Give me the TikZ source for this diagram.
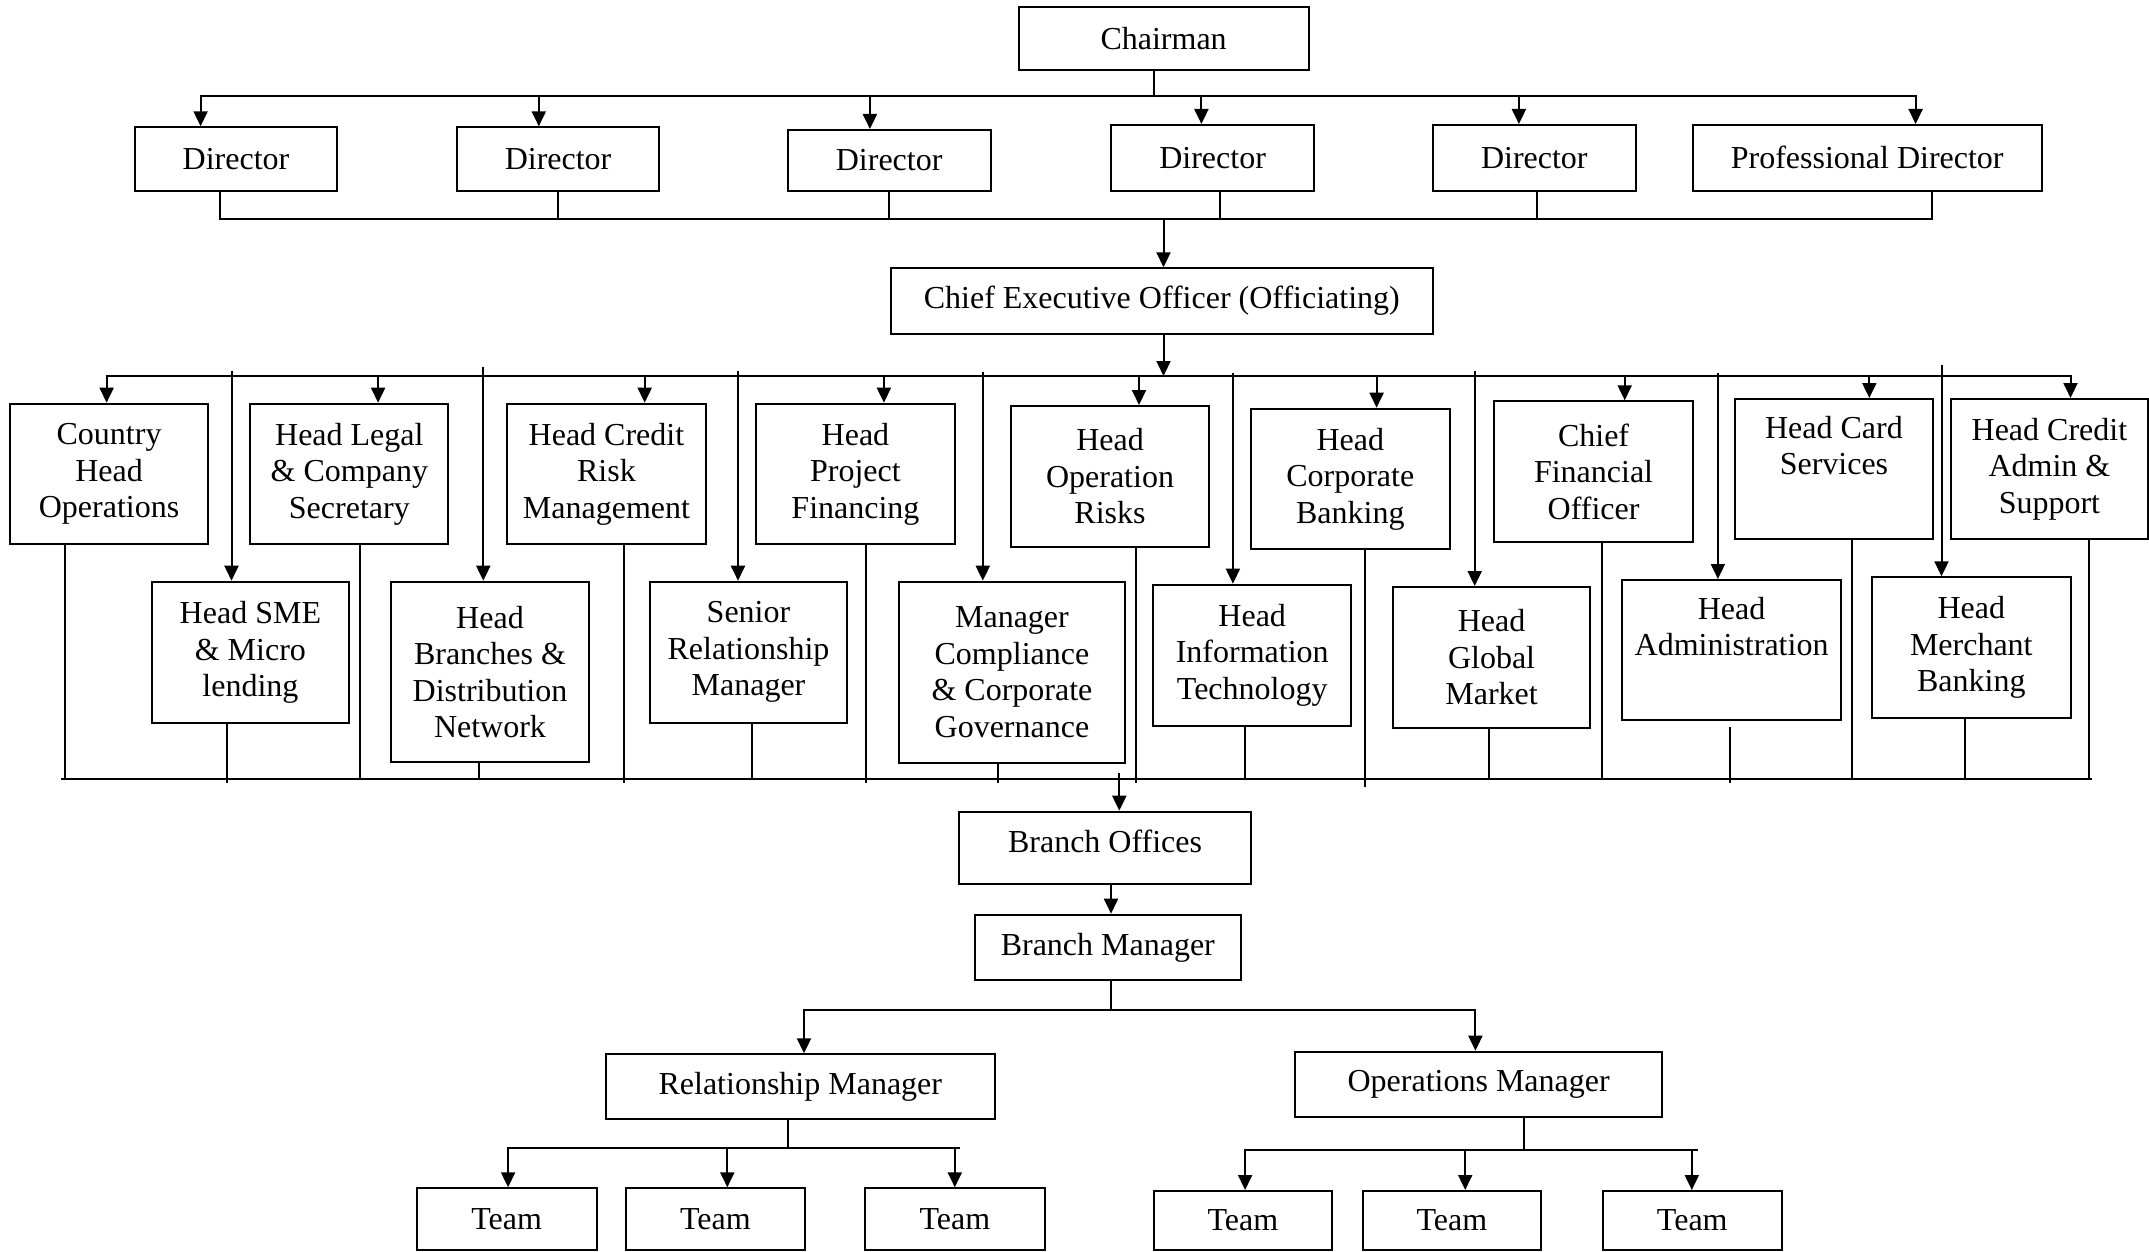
\documentclass[tikz,border=0pt]{standalone}
\usepackage{fontspec}
\setmainfont{Liberation Serif}
\usetikzlibrary{arrows.meta}
\newcommand\mkbox[6]{\node[box, minimum width={#3-#2}, minimum height={#5-#4}] (#1) at ({(#2+#3)/2},{(#4+#5)/2}) {#6};}
\begin{document}
\begin{tikzpicture}[x=1pt,y=-1pt,
  box/.style={draw, line width=2pt, rectangle, inner sep=0pt, align=center, font=\fontsize{32}{36.5}\selectfont},
  ln/.style={line width=2pt, line cap=rect},
  arr/.style={line width=2pt, -{Triangle[length=15pt,width=14pt]}}]
\fill[white] (0,0) rectangle (2149,1252);
\useasboundingbox (0,0) rectangle (2149,1252);

% top
\mkbox{chair}{1018.6}{1308.6}{7.3}{70}{Chairman}
\mkbox{d1}{134.7}{337.4}{127.3}{190.7}{Director}
\mkbox{d2}{456.7}{659.4}{127.3}{190.7}{Director}
\mkbox{d3}{787.8}{990.5}{130}{190.7}{Director}
\mkbox{d4}{1111}{1314.2}{125}{190.7}{Director}
\mkbox{d5}{1432.7}{1635.9}{125}{190.7}{Director}
\mkbox{pd}{1692.7}{2041.7}{125}{190.7}{Professional Director}
\mkbox{ceo}{890.9}{1432.7}{268.3}{334}{Chief Executive Officer (Officiating)}

% row 1
\mkbox{country}{9.8}{208.3}{403.7}{544.3}{Country\\Head\\Operations}
\mkbox{legal}{250.4}{448.3}{403.7}{544.3}{Head Legal\\\& Company\\Secretary}
\mkbox{crisk}{507.2}{705.7}{403.7}{544.3}{Head Credit\\Risk\\Management}
\mkbox{proj}{756.2}{954.7}{403.7}{544.3}{Head\\Project\\Financing}
\mkbox{oprisk}{1010.9}{1209.1}{406}{547}{Head\\Operation\\Risks}
\mkbox{corp}{1251.1}{1449.5}{408.7}{549.3}{Head\\Corporate\\Banking}
\mkbox{cfo}{1494.4}{1692.7}{401.3}{542.3}{Chief\\Financial\\Officer}
\mkbox{card}{1734.8}{1933.1}{399}{539.3}{Head Card\\Services\\\strut}
\mkbox{cadmin}{1951.3}{2147.5}{399}{539.3}{Head Credit\\Admin \&\\Support}

% row 2
\mkbox{sme}{151.5}{349.3}{581.7}{723}{Head SME\\\& Micro\\lending}
\mkbox{branches}{390.7}{589.3}{581.7}{762.3}{Head\\Branches \&\\Distribution\\Network}
\mkbox{srm}{649.6}{847.4}{581.7}{723}{Senior\\Relationship\\Manager}
\mkbox{comp}{898.6}{1125.3}{581.7}{762.7}{Manager\\Compliance\\\& Corporate\\Governance}
\mkbox{it}{1153}{1351.4}{584.7}{725.7}{Head\\Information\\Technology}
\mkbox{glob}{1392.7}{1590.4}{587}{728}{Head\\Global\\Market}
\mkbox{admin}{1621.9}{1841.3}{580}{720.3}{Head\\Administration\\\strut}
\mkbox{merch}{1872.1}{2070.5}{577.3}{718.3}{Head\\Merchant\\Banking}

% branch level
\node[box, text depth=14pt, minimum width=291.3, minimum height=72.3] (boff) at (1105.05,847.85) {Branch Offices};
\mkbox{bman}{975.1}{1240.5}{914.7}{980}{Branch Manager}
\mkbox{rm}{606.1}{994.5}{1054.3}{1119.3}{Relationship Manager}
\mkbox{om}{1295.1}{1662.2}{1051.7}{1116.7}{Operations Manager}
\mkbox{t1}{416.7}{596.7}{1188.3}{1250}{Team}
\mkbox{t2}{625.6}{805}{1188.3}{1250}{Team}
\mkbox{t3}{865.1}{1044.5}{1188.3}{1250}{Team}
\mkbox{t4}{1153.6}{1332}{1191}{1250}{Team}
\mkbox{t5}{1362.6}{1541}{1191}{1250}{Team}
\mkbox{t6}{1603}{1781.5}{1191}{1250}{Team}

% chairman -> directors
\coordinate (ch) at (1154,96.3);
\draw[ln] (ch |- chair.south) -- (ch);
\foreach \n/\x in {d1/200.6,d2/538.8,d3/869.9,d4/1201.4,d5/1518.9,pd/1915.6}{
  \coordinate (a\n) at (\x,96.3);
  \draw[arr] (a\n) -- (a\n |- \n.north);}
\draw[ln] (ad1) -- (apd);

% directors -> CEO
\foreach \n/\x in {d1/220,d2/558,d3/889,d4/1220,d5/1537,pd/1932}{
  \coordinate (b\n) at (\x,219);
  \draw[ln] (b\n |- \n.south) -- (b\n);}
\draw[ln] (bd1) -- (bpd);
\coordinate (bc) at (1163.5,219);
\draw[arr] (bc) -- (bc |- ceo.north);

% CEO -> heads
\coordinate (mc) at (1163.5,376);
\draw[arr] (mc |- ceo.south) -- (mc);
\foreach \n/\x in {country/106.6,legal/378.1,crisk/644.7,proj/883.9,oprisk/1139,corp/1376.6,cfo/1624.7,card/1869.3,cadmin/2070.5}{
  \coordinate (m\n) at (\x,376);
  \draw[arr] (m\n) -- (m\n |- \n.north);}
\draw[ln] (mcountry) -- (mcadmin);
\foreach \n/\x/\y in {sme/231.5/370.7,branches/483.3/366.7,srm/738/370.7,comp/982.8/371.7,it/1232.9/373,glob/1474.7/370.7,admin/1717.9/373,merch/1941.5/365}{
  \coordinate (s\n) at (\x,\y);
  \draw[arr] (s\n) -- (s\n |- \n.north);}

% heads -> branch offices
\foreach \n/\x/\y in {country/65/779,sme/227/781.7,legal/360/779,branches/479/779,crisk/624/781.7,srm/752/779,proj/866/781.7,comp/998/781.7,oprisk/1136/781.7,it/1245/779,corp/1365/786,glob/1489/779,cfo/1602/779,card/1852/779,merch/1965/779,cadmin/2089/779}{
  \coordinate (e\n) at (\x,\y);
  \draw[ln] (e\n |- \n.south) -- (e\n);}
\coordinate (eadmin) at (1730,781.7);
\draw[ln] ([yshift=-7pt]eadmin |- admin.south) -- (eadmin);
\coordinate (bbL) at (61.7,779);
\coordinate (bbR) at (2090.8,779);
\draw[ln] (bbL) -- (bbR);
\coordinate (bo) at (1119.3,773.3);
\draw[arr] (bo) -- (bo |- boff.north);

% branch offices -> manager
\coordinate (bmx) at (1111,0);
\draw[arr] (bmx |- boff.south) -- (bmx |- bman.north);
\coordinate (bmb) at (1111,1010.3);
\draw[ln] (bmb |- bman.south) -- (bmb);
\coordinate (brl) at (804,1010.3);
\coordinate (brr) at (1475.4,1010.3);
\draw[ln] (brl) -- (brr);
\draw[arr] (brl) -- (brl |- rm.north);
\draw[arr] (brr) -- (brr |- om.north);

% RM -> teams
\coordinate (rmb) at (788,1147.7);
\draw[ln] (rmb |- rm.south) -- (rmb);
\foreach \n/\x in {t1/508.1,t2/727.3,t3/954.8}{
  \coordinate (r\n) at (\x,1147.7);
  \draw[arr] (r\n) -- (r\n |- \n.north);}
\coordinate (rend) at (959.4,1147.7);
\draw[ln] (rt1) -- (rend);

% OM -> teams
\coordinate (omb) at (1524,1150);
\draw[ln] (omb |- om.south) -- (omb);
\foreach \n/\x in {t4/1245.1,t5/1465.2,t6/1691.8}{
  \coordinate (o\n) at (\x,1150);
  \draw[arr] (o\n) -- (o\n |- \n.north);}
\coordinate (oend) at (1697.3,1150);
\draw[ln] (ot4) -- (oend);
\end{tikzpicture}
\end{document}
